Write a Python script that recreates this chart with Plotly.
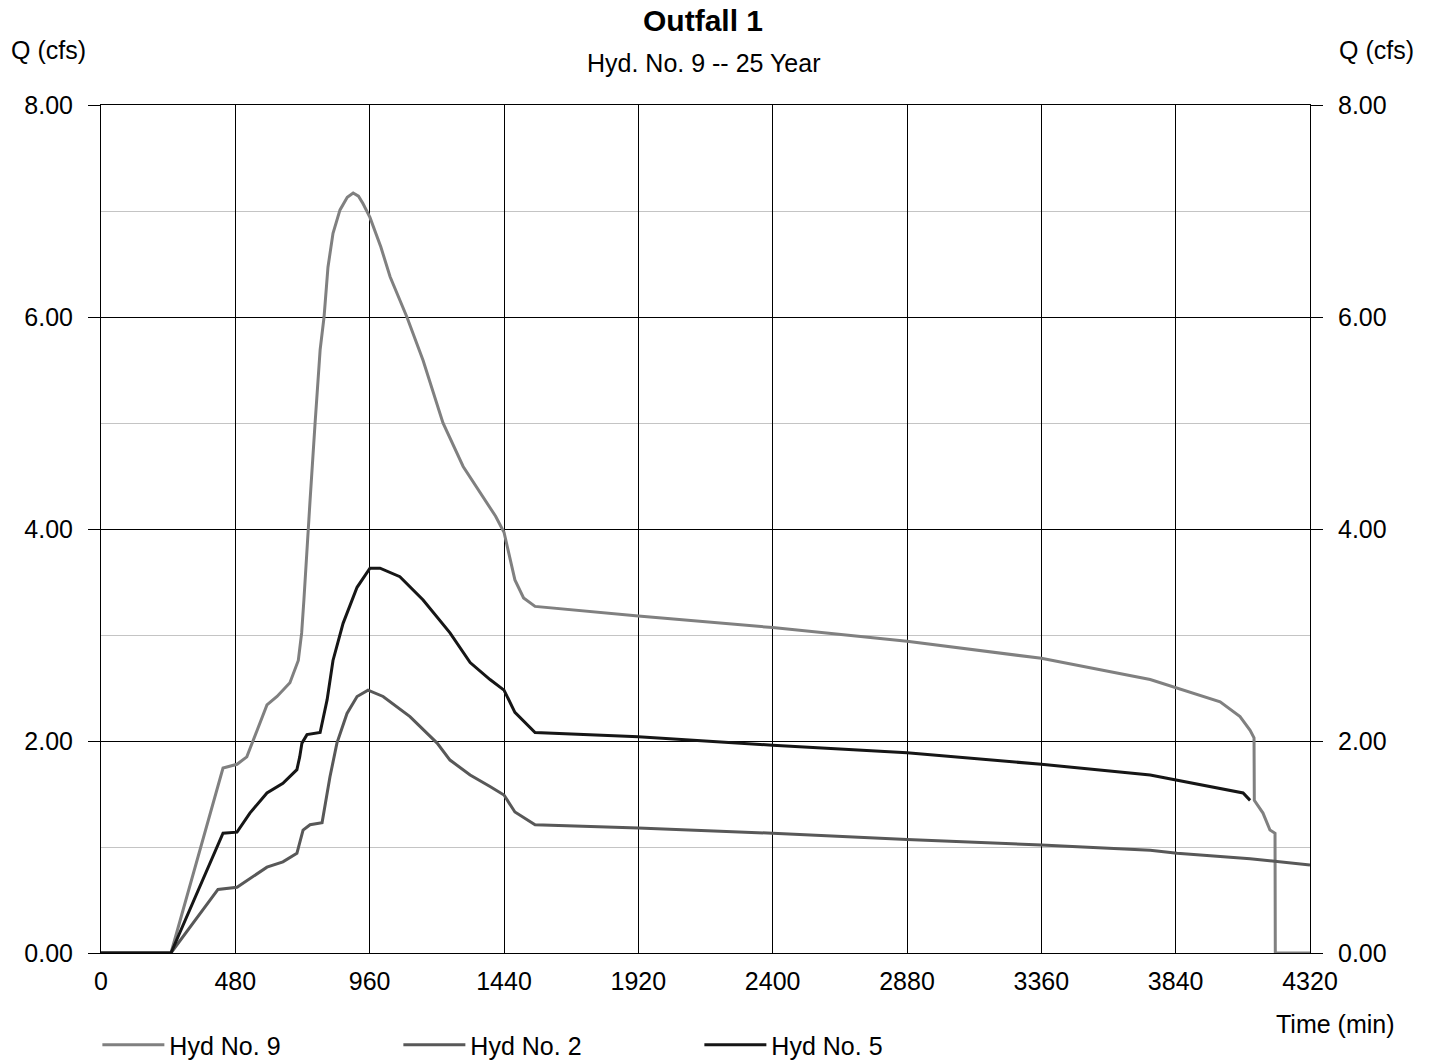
import plotly.graph_objects as go

# ---- data (time in min, Q in cfs) ----
t_hyd9 = [0, 250, 436, 486, 521, 557, 593, 629, 675, 705, 717, 725, 735, 747, 765, 783, 797,
          811, 829, 854, 880, 901, 920, 936, 961, 1000, 1033, 1093, 1151, 1222, 1294, 1365,
          1410, 1440, 1460, 1479, 1510, 1551, 1920, 2400, 2880, 3360, 3749, 3845, 3999, 4070,
          4106, 4120, 4121, 4152, 4177, 4195, 4196, 4320]
q_hyd9 = [0, 0, 1.745, 1.78, 1.85, 2.10, 2.34, 2.42, 2.55, 2.76, 3.02, 3.33, 3.80, 4.27, 5.00,
          5.69, 6.00, 6.47, 6.79, 7.01, 7.13, 7.17, 7.14, 7.07, 6.94, 6.66, 6.38, 6.00, 5.59,
          5.00, 4.59, 4.30, 4.12, 3.97, 3.75, 3.52, 3.35, 3.27, 3.18, 3.07, 2.94, 2.78, 2.58,
          2.50, 2.37, 2.23, 2.10, 2.03, 1.44, 1.32, 1.16, 1.13, 0, 0]

t_hyd2 = [0, 250, 418, 486, 593, 650, 700, 722, 747, 790, 818, 843, 879, 915, 954, 1008,
          1104, 1201, 1247, 1319, 1390, 1440, 1479, 1551, 1920, 2400, 2880, 3360, 3749, 3845,
          4106, 4320]
q_hyd2 = [0, 0, 0.60, 0.62, 0.81, 0.86, 0.94, 1.16, 1.21, 1.23, 1.66, 1.98, 2.26, 2.42, 2.48,
          2.42, 2.23, 1.98, 1.82, 1.68, 1.57, 1.49, 1.33, 1.21, 1.18, 1.13, 1.07, 1.02, 0.97,
          0.94, 0.89, 0.83]

t_hyd5 = [0, 250, 436, 486, 532, 593, 650, 700, 710, 718, 736, 783, 808, 829, 865, 915, 961,
          997, 1068, 1151, 1247, 1319, 1390, 1440, 1479, 1551, 1920, 2400, 2880, 3360, 3749,
          3845, 4081, 4106]
q_hyd5 = [0, 0, 1.13, 1.14, 1.32, 1.51, 1.60, 1.73, 1.85, 1.98, 2.06, 2.08, 2.39, 2.76, 3.11,
          3.45, 3.63, 3.63, 3.55, 3.33, 3.02, 2.74, 2.58, 2.48, 2.27, 2.08, 2.04, 1.96, 1.89,
          1.78, 1.68, 1.63, 1.51, 1.44]

x_ticks = [0, 480, 960, 1440, 1920, 2400, 2880, 3360, 3840, 4320]
y_ticks = [0, 2, 4, 6, 8]
series = [("Hyd No. 9", t_hyd9, q_hyd9, "#808080"),
          ("Hyd No. 2", t_hyd2, q_hyd2, "#585858"),
          ("Hyd No. 5", t_hyd5, q_hyd5, "#161616")]

FONT = "Liberation Sans, Arial, sans-serif"
FS = 25

fig = go.Figure()
for name, t, q, col in series:
    fig.add_trace(go.Scatter(x=t, y=q, mode="lines", name=name,
                             line=dict(color=col, width=3)))

axis_y = dict(range=[0, 8], tickvals=y_ticks, tickformat=".2f",
              ticks="outside", ticklen=12, tickcolor="black", tickwidth=1,
              showgrid=True, gridcolor="black", gridwidth=1,
              minor=dict(dtick=1, showgrid=True, gridcolor="#c4c4c4", gridwidth=1, ticks=""),
              zeroline=False, showline=True, linecolor="black", linewidth=1,
              tickfont=dict(size=FS, color="black", family=FONT),
              ticklabelstandoff=10, fixedrange=True)

fig.update_layout(
    width=1431, height=1060,
    margin=dict(l=101, r=121, t=105, b=107, autoexpand=False),
    paper_bgcolor="white", plot_bgcolor="white",
    font=dict(family=FONT, size=FS, color="black"),
    xaxis=dict(range=[0, 4320], tickvals=x_ticks, ticks="",
               showgrid=True, gridcolor="black", gridwidth=1,
               zeroline=False, showline=True, linecolor="black", linewidth=1, mirror=True,
               tickfont=dict(size=FS, color="black", family=FONT),
               ticklabelstandoff=6),
    yaxis=axis_y,
    yaxis2=dict(axis_y, overlaying="y", side="right", matches="y", showgrid=False,
                minor=dict(showgrid=False)),
    showlegend=True,
    legend=dict(orientation="h", x=-0.003, xanchor="left", y=-0.1085, yanchor="middle",
                font=dict(size=FS, color="black", family=FONT),
                itemwidth=62, entrywidth=224, bgcolor="rgba(0,0,0,0)", traceorder="normal"),
    annotations=[
        dict(text="<b>Outfall 1</b>", x=0.498, y=1.100, xref="paper", yref="paper",
             showarrow=False, font=dict(size=30, family=FONT), xanchor="center", yanchor="middle"),
        dict(text="Hyd. No. 9 -- 25 Year", x=0.498, y=1.0495, xref="paper", yref="paper",
             showarrow=False, font=dict(size=FS, family=FONT), xanchor="center", yanchor="middle"),
        dict(text="Q (cfs)", x=-0.0438, y=1.065, xref="paper", yref="paper",
             showarrow=False, font=dict(size=FS, family=FONT), xanchor="center", yanchor="middle"),
        dict(text="Q (cfs)", x=1.0554, y=1.065, xref="paper", yref="paper",
             showarrow=False, font=dict(size=FS, family=FONT), xanchor="center", yanchor="middle"),
        dict(text="Time (min)", x=1.0215, y=-0.0837, xref="paper", yref="paper",
             showarrow=False, font=dict(size=FS, family=FONT), xanchor="center", yanchor="middle"),
    ],
)
# dummy invisible trace so the right axis is drawn
fig.add_trace(go.Scatter(x=[0], y=[0], yaxis="y2", mode="lines", showlegend=False,
                         hoverinfo="skip", line=dict(width=0), opacity=0))

fig.write_html("out.html")
